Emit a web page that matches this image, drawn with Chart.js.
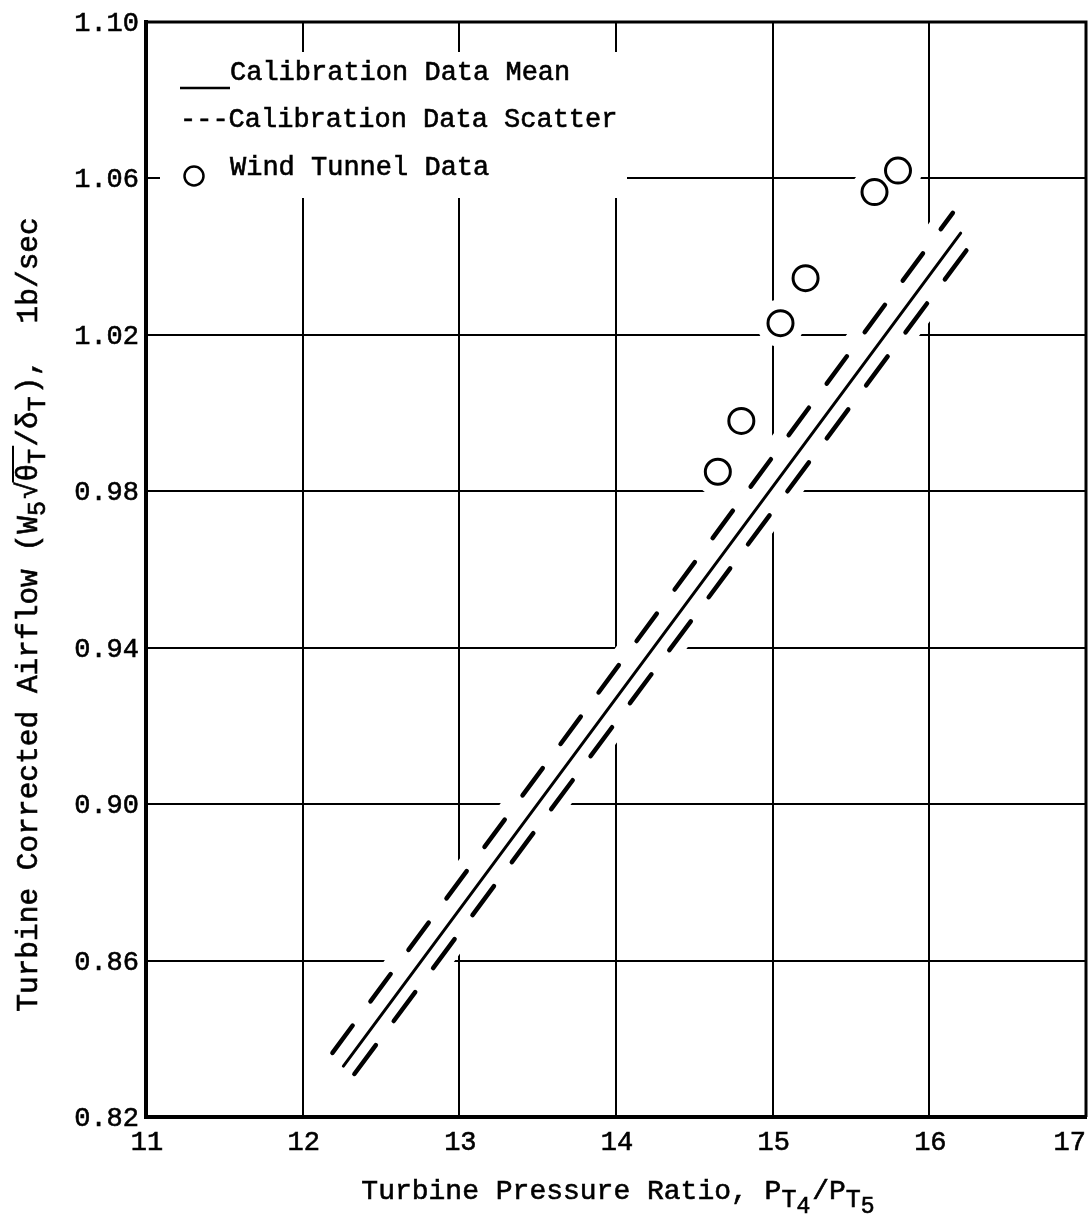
<!DOCTYPE html>
<html>
<head>
<meta charset="utf-8">
<script src="https://cdn.jsdelivr.net/npm/chart.js@4.4.1/dist/chart.umd.min.js"></script>
<style>
  html, body { margin: 0; padding: 0; background: #fff; }
  #wrap { width: 1089px; height: 1223px; position: relative; }
</style>
</head>
<body>
<div id="wrap"><canvas id="c"></canvas></div>
<script>
// Axis ticks
const xTicks = [11, 12, 13, 14, 15, 16, 17];
const yTicks = [0.82, 0.86, 0.90, 0.94, 0.98, 1.02, 1.06, 1.10];

// Calibration mean line (end points)
const meanRatio = [12.26, 16.20];
const meanAirflow = [0.833, 1.046];

// Calibration scatter band, upper and lower edges
const scatterHighRatio = [12.19, 16.15];
const scatterHighAirflow = [0.8364, 1.0512];
const scatterLowRatio = [12.33, 16.30];
const scatterLowAirflow = [0.831, 1.045];

// Wind tunnel measurements
const tunnelRatio = [14.65, 14.80, 15.05, 15.21, 15.65, 15.80];
const tunnelAirflow = [0.985, 0.998, 1.023, 1.0345, 1.0565, 1.062];

const FONT_FAMILY = '"Liberation Mono", "DejaVu Sans Mono", monospace';
const INK = '#000';

const pairs = (xs, ys) => xs.map((x, i) => ({ x: x, y: ys[i] }));

// typewriter-like text: fill plus a hairline stroke for a slightly heavier ink
function inkText(ctx, t, x, y) {
  ctx.fillText(t, x, y);
  ctx.lineWidth = 0.6;
  ctx.strokeText(t, x, y);
}

// White gaps in the grid around the plotted marks, plus the legend backdrop
const gapPlugin = {
  id: 'gridGaps',
  beforeDatasetsDraw(chart, args, opts) {
    const ctx = chart.ctx;
    const area = chart.chartArea;
    ctx.save();
    ctx.beginPath();
    ctx.rect(area.left + 3, area.top + 3, area.right - area.left - 6, area.bottom - area.top - 6);
    ctx.clip();
    ctx.strokeStyle = '#fff';
    ctx.fillStyle = '#fff';
    chart.data.datasets.forEach((ds, i) => {
      const pts = chart.getDatasetMeta(i).data;
      if (ds.showLine) {
        ctx.lineWidth = opts.lineGap;
        ctx.lineCap = 'round';
        ctx.beginPath();
        pts.forEach((p, k) => (k ? ctx.lineTo(p.x, p.y) : ctx.moveTo(p.x, p.y)));
        ctx.stroke();
      } else {
        pts.forEach(p => {
          ctx.beginPath();
          ctx.arc(p.x, p.y, opts.pointGap, 0, Math.PI * 2);
          ctx.fill();
        });
      }
    });
    // legend backdrop
    ctx.fillRect(area.left + 14, area.top + 30, 467, 146);
    ctx.restore();
  }
};

// Legend block in the upper-left corner of the plot
const legendPlugin = {
  id: 'typedLegend',
  afterDatasetsDraw(chart) {
    const ctx = chart.ctx;
    const a = chart.chartArea;
    ctx.save();
    ctx.fillStyle = INK;
    ctx.strokeStyle = INK;
    ctx.font = '27px ' + FONT_FAMILY;
    ctx.textBaseline = 'alphabetic';
    ctx.textAlign = 'left';
    // solid line sample
    ctx.lineWidth = 2.5;
    ctx.beginPath();
    ctx.moveTo(a.left + 34, a.top + 66);
    ctx.lineTo(a.left + 84, a.top + 66);
    ctx.stroke();
    inkText(ctx, 'Calibration Data Mean', a.left + 84, a.top + 58);
    inkText(ctx, '---Calibration Data Scatter', a.left + 34, a.top + 105);
    // circle sample
    ctx.lineWidth = 2.5;
    ctx.beginPath();
    ctx.arc(a.left + 48, a.top + 154, 9.5, 0, Math.PI * 2);
    ctx.stroke();
    inkText(ctx, 'Wind Tunnel Data', a.left + 84, a.top + 153);
    ctx.restore();
  }
};

// Frame around the plot
const framePlugin = {
  id: 'frame',
  afterDatasetsDraw(chart) {
    const ctx = chart.ctx;
    const a = chart.chartArea;
    ctx.save();
    ctx.strokeStyle = INK;
    ctx.lineWidth = 3;
    ctx.beginPath();
    ctx.moveTo(a.left, a.top);
    ctx.lineTo(a.right, a.top);
    ctx.lineTo(a.right, a.bottom);
    ctx.stroke();
    ctx.lineWidth = 4;
    ctx.beginPath();
    ctx.moveTo(a.left, a.top);
    ctx.lineTo(a.left, a.bottom);
    ctx.lineTo(a.right, a.bottom);
    ctx.stroke();
    ctx.restore();
  }
};

// Tick labels, kept inside the canvas at the right-hand end
const tickLabelPlugin = {
  id: 'tickLabels',
  afterDraw(chart) {
    const ctx = chart.ctx;
    const a = chart.chartArea;
    const xs = chart.scales.x, ys = chart.scales.y;
    ctx.save();
    ctx.fillStyle = INK;
    ctx.strokeStyle = INK;
    ctx.font = '27px ' + FONT_FAMILY;
    ctx.textBaseline = 'alphabetic';
    ctx.textAlign = 'left';
    xTicks.forEach(v => {
      const t = String(v);
      const w = ctx.measureText(t).width;
      let left = xs.getPixelForValue(v) - w / 2 + 1;
      left = Math.min(left, chart.width - w - 3);
      inkText(ctx, t, left, a.bottom + 33);
    });
    ctx.textAlign = 'right';
    yTicks.forEach(v => {
      inkText(ctx, v.toFixed(2), a.left - 7, ys.getPixelForValue(v) + 9);
    });
    ctx.restore();
  }
};

// Axis titles with subscripts drawn as runs of text
function drawRuns(ctx, runs, baseSize) {
  const widths = runs.map(r => {
    ctx.font = (r.size || baseSize) + 'px ' + FONT_FAMILY;
    return ctx.measureText(r.t).width + (r.gap || 0);
  });
  const total = widths.reduce((s, w) => s + w, 0);
  let u = -total / 2;
  runs.forEach((r, i) => {
    ctx.font = (r.size || baseSize) + 'px ' + FONT_FAMILY;
    inkText(ctx, r.t, u, r.dy || 0);
    if (r.bar) {
      ctx.lineWidth = 2;
      ctx.beginPath();
      ctx.moveTo(u - 1, -24);
      ctx.lineTo(u + widths[i] + 1, -24);
      ctx.stroke();
    }
    u += widths[i];
  });
}

const titlePlugin = {
  id: 'axisTitles',
  afterDraw(chart) {
    const ctx = chart.ctx;
    const a = chart.chartArea;
    ctx.save();
    ctx.fillStyle = INK;
    ctx.strokeStyle = INK;
    ctx.textAlign = 'left';
    ctx.textBaseline = 'alphabetic';

    // x title
    ctx.save();
    ctx.translate((a.left + a.right) / 2 + 2, a.bottom + 82);
    drawRuns(ctx, [
      { t: 'Turbine Pressure Ratio, P' },
      { t: 'T', size: 25, dy: 8 },
      { t: '4', size: 23, dy: 14, gap: 2 },
      { t: '/P' },
      { t: 'T', size: 25, dy: 8 },
      { t: '5', size: 23, dy: 14 }
    ], 28);
    ctx.restore();

    // y title
    ctx.save();
    ctx.translate(37, (a.top + a.bottom) / 2 + 45);
    ctx.rotate(-Math.PI / 2);
    drawRuns(ctx, [
      { t: 'Turbine Corrected Airflow (W' },
      { t: '5', size: 25, dy: 8, gap: 2 },
      { t: '\u221A' },
      { t: '\u03B8', bar: true },
      { t: 'T', size: 25, dy: 8, bar: true, gap: 2 },
      { t: '/\u03B4' },
      { t: 'T', size: 25, dy: 8, gap: 2 },
      { t: '),  1b/sec' }
    ], 29.5);
    ctx.restore();

    ctx.restore();
  }
};

new Chart(document.getElementById('c'), {
  type: 'scatter',
  data: {
    datasets: [
      {
        label: 'Calibration Data Mean',
        data: pairs(meanRatio, meanAirflow),
        showLine: true,
        borderColor: INK,
        borderWidth: 3,
        pointRadius: 0,
        borderCapStyle: 'round'
      },
      {
        label: 'Calibration Data Scatter',
        data: pairs(scatterHighRatio, scatterHighAirflow),
        showLine: true,
        borderColor: INK,
        borderWidth: 4.5,
        borderDash: [34, 30],
        borderCapStyle: 'round',
        pointRadius: 0
      },
      {
        label: 'Calibration Data Scatter',
        data: pairs(scatterLowRatio, scatterLowAirflow),
        showLine: true,
        borderColor: INK,
        borderWidth: 4.5,
        borderDash: [36, 30],
        borderCapStyle: 'round',
        pointRadius: 0
      },
      {
        label: 'Wind Tunnel Data',
        data: pairs(tunnelRatio, tunnelAirflow),
        showLine: false,
        pointStyle: 'circle',
        pointRadius: 12.5,
        pointBorderWidth: 3,
        pointBorderColor: INK,
        pointBackgroundColor: 'rgba(255,255,255,0)'
      }
    ]
  },
  options: {
    responsive: true,
    maintainAspectRatio: false,
    animation: false,
    layout: { autoPadding: false, padding: { top: 22, right: 3, left: 0, bottom: 0 } },
    plugins: {
      legend: { display: false },
      tooltip: { enabled: false },
      gridGaps: { lineGap: 26, pointGap: 24 }
    },
    scales: {
      x: {
        type: 'linear',
        min: 11,
        max: 17,
        afterBuildTicks: s => { s.ticks = xTicks.map(v => ({ value: v })); },
        afterFit: s => { s.height = 106; s.paddingLeft = 0; s.paddingRight = 0; },
        grid: { color: INK, lineWidth: 2, drawTicks: false },
        border: { display: true, color: INK, width: 4 },
        ticks: { display: false }
      },
      y: {
        type: 'linear',
        min: 0.82,
        max: 1.10,
        afterBuildTicks: s => { s.ticks = yTicks.map(v => ({ value: v })); },
        afterFit: s => { s.width = 146; s.paddingTop = 0; s.paddingBottom = 0; },
        grid: { color: INK, lineWidth: 2, drawTicks: false },
        border: { display: true, color: INK, width: 4 },
        ticks: { display: false }
      }
    }
  },
  plugins: [gapPlugin, legendPlugin, framePlugin, tickLabelPlugin, titlePlugin]
});
</script>
</body>
</html>
